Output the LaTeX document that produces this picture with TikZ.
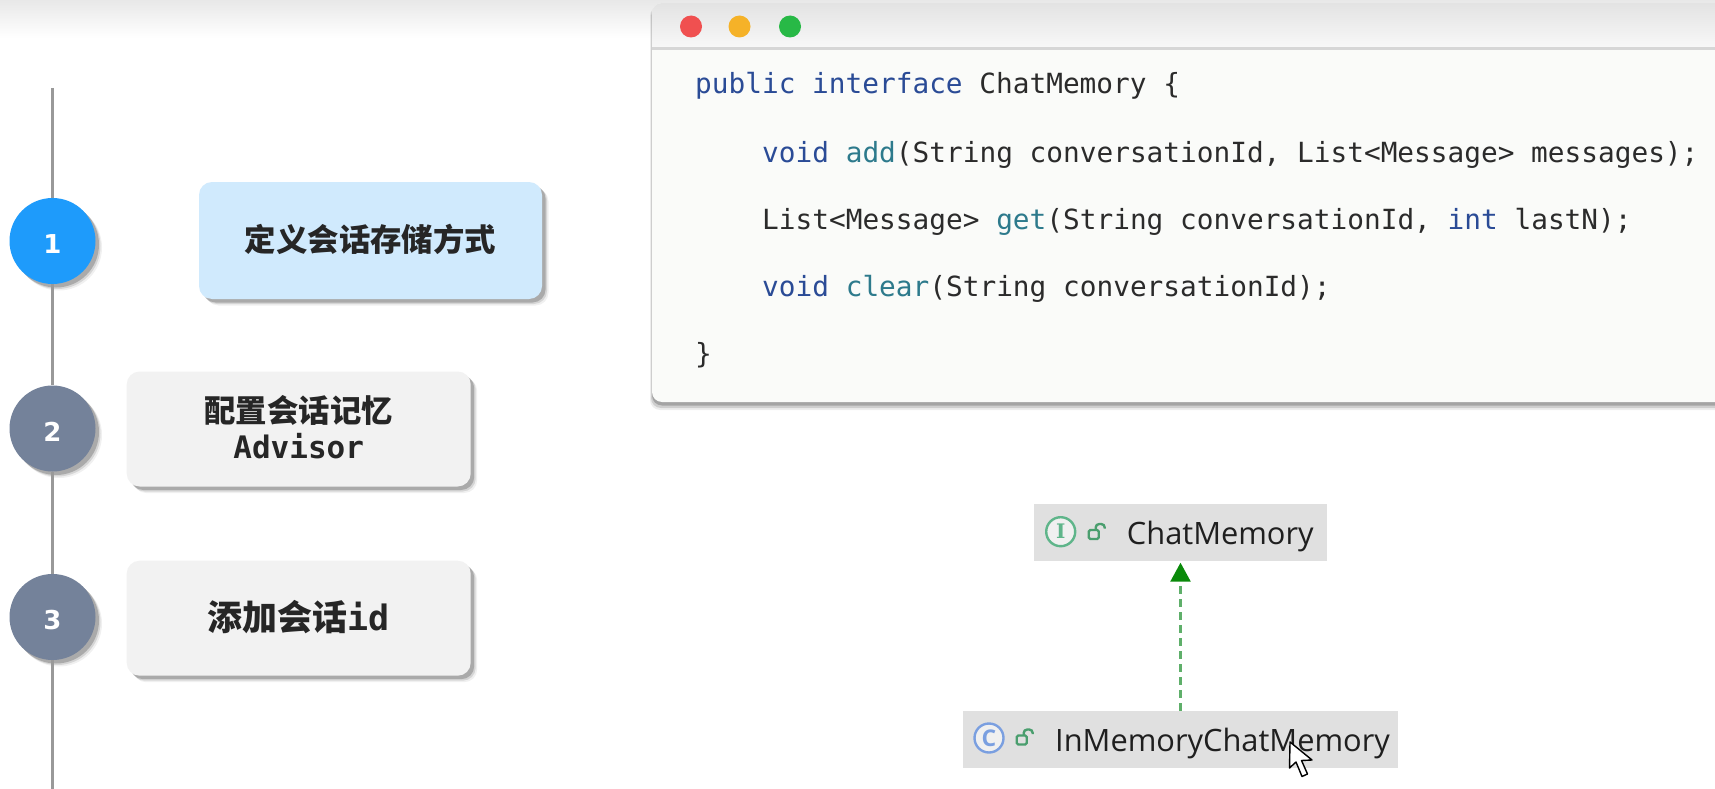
\documentclass[tikz,border=0pt]{standalone}
\usepackage{fontspec}
\setmainfont{Liberation Sans}
\newfontfamily\cjk{Noto Sans CJK SC}
\newfontfamily\codefont{DejaVu Sans Mono}
\newfontfamily\labelmono{DejaVu Sans Mono}
\newfontfamily\umlfont{Open Sans}
\newfontfamily\numfont{DejaVu Sans}
\newfontfamily\iconfont{DejaVu Serif}
\usetikzlibrary{arrows.meta,shadows}
\definecolor{kwc}{HTML}{2A4B96}
\definecolor{mtc}{HTML}{2D7A8C}
\definecolor{plc}{HTML}{2B2B2B}
\definecolor{actblue}{HTML}{1E9BFB}
\definecolor{actbox}{HTML}{D0EAFD}
\definecolor{idlecircle}{HTML}{74829A}
\definecolor{idlebox}{HTML}{F2F2F2}
\definecolor{umlgreen}{HTML}{5FB58A}
\definecolor{lockgreen}{HTML}{4A9E6E}
\definecolor{umlblue}{HTML}{7A9FE0}
\definecolor{dashgreen}{HTML}{5FAF6A}
\definecolor{tipgreen}{HTML}{0A8A0A}
\definecolor{winbg}{HTML}{FAFBF9}
\newcommand{\fsz}[1]{\fontsize{#1pt}{#1pt}\selectfont}
\newcommand{\kw}[1]{\textcolor{kwc}{#1}}
\newcommand{\mt}[1]{\textcolor{mtc}{#1}}
\newcommand{\numlabel}[1]{\raisebox{-12.8pt}[0pt][0pt]{#1}}
\tikzset{
  softshadow/.style={
    drop shadow={shadow xshift=6.5pt,shadow yshift=-6.5pt,opacity=.06,fill=black},
    drop shadow={shadow xshift=5pt,shadow yshift=-5pt,opacity=.11,fill=black},
    drop shadow={shadow xshift=3.5pt,shadow yshift=-3.5pt,opacity=.2,fill=black}},
  stepcircle/.style={circle,minimum size=86pt,inner sep=0pt,softshadow,text=white,font=\numfont\bfseries\fsz{26}},
  stepbox/.style={rectangle,rounded corners=13pt,inner sep=0pt,softshadow,text=black!85,align=center},
  codeline/.style={anchor=base west,inner sep=0pt,text=plc,font=\codefont\fsz{27.77}},
  umlbox/.style={rectangle,fill=black!12,inner sep=0pt},
  umltext/.style={anchor=base west,inner sep=0pt,text=black!88,font=\umlfont\fsz{30.8}},
  umlicon/.style={circle,draw,line width=2.4pt,fill=black!6,minimum size=29pt,inner sep=0pt},
  timeline/.style={draw=black!40,line width=2.5pt},
  light/.style={circle,minimum size=22pt,inner sep=0pt},
  lockicon/.pic={
    \draw[lockgreen,line width=2.4pt,rounded corners=1.5pt] (0,0) rectangle (10,9);
    \draw[lockgreen,line width=2.4pt,rounded corners=3.5pt] (7,0) -- (7,-6) -- (16,-6) -- (16,-1.5);
  }
}
\begin{document}
\begin{tikzpicture}[x=1pt,y=-1pt]
\clip (0,0) rectangle (1715,789);
\fill[white] (0,0) rectangle (1715,789);
\shade[top color=black!9,bottom color=white] (0,0) rectangle (1715,38);

% code window
\fill[black,opacity=.07,rounded corners=10pt] (650,6) -- (650,410) -- (1800,410) -- (1800,6) -- cycle;
\fill[black,opacity=.13,rounded corners=10pt] (651,6) -- (651,408) -- (1800,408) -- (1800,6) -- cycle;
\fill[black,opacity=.2,rounded corners=10pt] (652,6) -- (652,405.5) -- (1800,405.5) -- (1800,6) -- cycle;
\fill[winbg,rounded corners=10pt] (652,3) -- (652,402) -- (1800,402) -- (1800,3) -- cycle;
\begin{scope}
  \clip[rounded corners=10pt] (652,3) -- (652,402) -- (1800,402) -- (1800,3) -- cycle;
  \shade[top color=black!11,bottom color=black!3] (652,3) rectangle (1800,47);
  \fill[black!16] (652,47) rectangle (1800,50);
\end{scope}
\node[light,fill={rgb,255:red,240;green,80;blue,80}] (red) at (691,26.5) {};
\node[light,fill={rgb,255:red,245;green,178;blue,40}] (amber) at (739.5,26.5) {};
\node[light,fill={rgb,255:red,40;green,185;blue,70}] (grn) at (790,26.5) {};

\node[codeline] (c1) at (695,94) {\kw{public} \kw{interface} ChatMemory \{};
\node[codeline] (c2) at (762,162) {\kw{void} \mt{add}(String conversationId, List<Message> messages);};
\node[codeline] (c3) at (762,229) {List<Message> \mt{get}(String conversationId, \kw{int} lastN);};
\node[codeline] (c4) at (762,296) {\kw{void} \mt{clear}(String conversationId);};
\node[codeline] (c5) at (695,363) {\}};

% timeline
\coordinate (ttop) at (52.5,88);
\coordinate (tbot) at (52.5,789);
\node[stepcircle,fill=actblue] (s1) at (52.5,241) {\numlabel{1}};
\node[stepcircle,fill=idlecircle] (s2) at (52.5,428.5) {\numlabel{2}};
\node[stepcircle,fill=idlecircle] (s3) at (52.5,617) {\numlabel{3}};
\draw[timeline] (ttop) -- (s1);
\draw[timeline] (s1) -- (s2);
\draw[timeline] (s2) -- (s3);
\draw[timeline] (s3) -- (tbot);

% step boxes
\node[stepbox,fill=actbox,minimum width=343pt,minimum height=117pt] (b1) at (370.5,240.5)
  {\cjk\bfseries\fsz{31.4}定义会话存储方式\rule[-5.8pt]{0pt}{5pt}};
\node[stepbox,fill=idlebox,minimum width=344pt,minimum height=115pt] (b2) at (298.7,429)
  {\cjk\bfseries\fsz{31.4}配置会话记忆\\[7.5pt]\labelmono\bfseries\fsz{31}Advisor\rule[-4pt]{0pt}{5pt}};
\node[stepbox,fill=idlebox,minimum width=344pt,minimum height=115pt] (b3) at (298.7,618.2)
  {\cjk\bfseries\fsz{35}添加会话\labelmono\bfseries\fsz{35}id\rule[-6.5pt]{0pt}{5pt}};

% UML
\node[umlbox,minimum width=292.5pt,minimum height=57pt] (iface) at (1180.5,532.5) {};
\node[umlbox,minimum width=435.5pt,minimum height=57pt] (impl) at (1180.5,739.2) {};
\node[umlicon,draw=umlgreen,text=umlgreen,font=\iconfont\bfseries\fsz{20}] (iicon) at (1060.7,531.7) {I};
\node[umlicon,draw=umlblue,text=umlblue,font=\umlfont\bfseries\fsz{23}] (cicon) at (989,738) {C};
\pic at (1088.7,530) {lockicon};
\pic at (1016.7,735.5) {lockicon};
\node[umltext] (itext) at (1126.7,544) {ChatMemory};
\node[umltext] (ctext) at (1055,751) {InMemoryChatMemory};
\draw[dashgreen,line width=2.5pt,dash pattern=on 8pt off 5pt,
  -{Triangle[color=tipgreen,fill=tipgreen,length=19pt,width=20pt]},shorten >=1.5pt] (impl.north) -- (iface.south);

% mouse cursor
\draw[fill=white,draw=black,line width=1.4pt,line join=round]
  (1290,742) -- (1289.5,768) -- (1296,762) -- (1302,776.5) -- (1307.5,774) -- (1301.5,760.5) -- (1312,760) -- cycle;
\end{tikzpicture}
\end{document}
